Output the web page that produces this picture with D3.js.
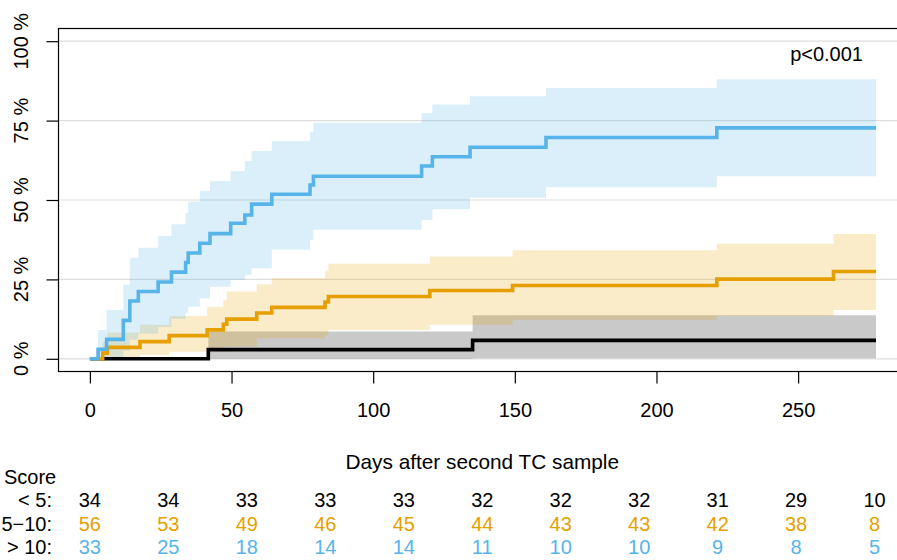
<!DOCTYPE html>
<html lang="en">
<head>
<meta charset="UTF-8">
<title>Cumulative incidence by score</title>
<style>
  body { margin: 0; background: #fff; }
  text { font-family: "Liberation Sans", Arial, Helvetica, sans-serif; }
</style>
</head>
<body>
<div id="chart"></div>
<script src="https://cdnjs.cloudflare.com/ajax/libs/d3/7.8.5/d3.min.js"></script>
<script>
// ---- data ----
// score < 5
var lowTimes  = [0, 41.8, 135.1, 277.5];
var lowEst    = [0, 2.9, 5.8, 5.8];
var lowUpper  = [0, 8.6, 13.7, 13.7];
var lowLower  = [0, 0, 0.2, 0.2];
// score 5-10
var midTimes  = [0, 4.5, 6.2, 17.7, 28, 41.4, 47.1, 48.3, 58.9, 64.2, 83, 84.2, 120, 149.2, 221.3, 262.5, 277.5];
var midEst    = [0, 1.8, 3.6, 5.4, 7.3, 9.1, 10.9, 12.5, 14.4, 16.2, 17.9, 19.6, 21.5, 23.1, 25.1, 27.5, 27.5];
var midUpper  = [0, 5.2, 8.3, 10.7, 13.5, 16.3, 18.6, 21.2, 23.5, 25.4, 27.8, 29.9, 32.2, 34.2, 36.2, 39.3, 39.3];
var midLower  = [0, 0, 0.4, 1.2, 2.2, 3.2, 3.6, 3.9, 6.5, 6.5, 7.5, 9.1, 10.7, 12.3, 13.5, 15.4, 15.4];
// score > 10
var highTimes = [0, 2.9, 5.9, 11.8, 14.1, 17.1, 24.1, 28.8, 33.8, 34.7, 38.8, 42.4, 49.7, 54.7, 57.1, 64.2, 77.7, 78.9, 117.1, 120.9, 134.2, 161, 221.3, 277.5];
var highEst   = [0, 3.0, 6.1, 12.1, 18.2, 21.2, 24.2, 27.3, 30.3, 33.3, 36.4, 39.4, 42.7, 45.3, 48.7, 51.8, 54.7, 57.5, 60.7, 63.6, 66.6, 69.7, 72.7, 72.7];
var highUpper = [0, 9.1, 15.4, 23.3, 31.8, 35.0, 38.7, 42.4, 46.0, 49.5, 52.8, 56.0, 59.1, 62.3, 65.4, 68.6, 71.5, 74.3, 77.3, 80.1, 82.7, 85.3, 88.0, 88.0];
var highLower = [0, 0, 0.4, 2.5, 6, 8, 10, 12.5, 14.5, 16.4, 19, 22.7, 24.8, 26.5, 28.5, 34.3, 37.4, 40.6, 43.7, 47.1, 50.7, 54.0, 57.5, 57.5];

var xTicks = [0, 50, 100, 150, 200, 250];
var yTicks = [0, 25, 50, 75, 100];
var yTickLabels = ["0 %", "25 %", "50 %", "75 %", "100 %"];

var riskTimes  = [0, 27.7, 55.4, 83.1, 110.8, 138.5, 166.2, 193.9, 221.6, 249.3, 277];
var riskLabels = ["< 5:", "5\u221210:", "> 10:"];
var riskLow    = [34, 34, 33, 33, 33, 32, 32, 32, 31, 29, 10];
var riskMid    = [56, 53, 49, 46, 45, 44, 43, 43, 42, 38, 8];
var riskHigh   = [33, 25, 18, 14, 14, 11, 10, 10, 9, 8, 5];

var groupColors = ["#000000", "#E69F00", "#56B4E9"];

// ---- layout ----
var W = 897, H = 560;
var svg = d3.select("#chart").append("svg")
    .attr("width", W)
    .attr("height", H);

var x = d3.scaleLinear().domain([-11.08, 288.08]).range([58.5, 906]);
var y = d3.scaleLinear().domain([-4, 104]).range([371.5, 28.5]);

// grid
svg.append("g").selectAll("line").data(yTicks).enter()
    .append("line")
    .attr("x1", x(-11.08)).attr("x2", W)
    .attr("y1", function(d) { return y(d); })
    .attr("y2", function(d) { return y(d); })
    .style("stroke", "#dedede").style("stroke-width", 1.2);

function rows(times, est, lo, up) {
  return times.map(function(t, i) { return {t: t, e: est[i], lo: lo[i], up: up[i]}; });
}
var groups = [
  rows(lowTimes, lowEst, lowLower, lowUpper),
  rows(midTimes, midEst, midLower, midUpper),
  rows(highTimes, highEst, highLower, highUpper)
];

var band = d3.area()
    .curve(d3.curveStepAfter)
    .x(function(d) { return x(d.t); })
    .y0(function(d) { return y(d.lo); })
    .y1(function(d) { return y(d.up); });

var line = d3.line()
    .curve(d3.curveStepAfter)
    .x(function(d) { return x(d.t); })
    .y(function(d) { return y(d.e); });

// confidence bands
groups.forEach(function(g, i) {
  svg.append("path")
      .datum(g)
      .attr("d", band)
      .style("fill", groupColors[i])
      .style("fill-opacity", 0.21)
      .style("stroke", "none");
});

// step curves
groups.forEach(function(g, i) {
  svg.append("path")
      .datum(g)
      .attr("d", line)
      .style("fill", "none")
      .style("stroke", groupColors[i])
      .style("stroke-width", 3.6);
});

// box (right side is outside the window)
svg.append("rect")
    .attr("x", 58.5).attr("y", 28.5)
    .attr("width", 900).attr("height", 343)
    .style("fill", "none").style("stroke", "#000").style("stroke-width", 1.2);

// x axis
var xAxis = svg.append("g")
    .attr("transform", "translate(0," + 371.5 + ")")
    .call(d3.axisBottom(x).tickValues(xTicks).tickSize(12).tickPadding(19).tickFormat(d3.format("d")));
xAxis.select(".domain").remove();
xAxis.selectAll("line").style("stroke", "#000").style("stroke-width", 1.2);
xAxis.selectAll("text").style("font-size", "20px").style("fill", "#000")
    .style("font-family", "'Liberation Sans', Arial, Helvetica, sans-serif");

// y axis
var yAxis = svg.append("g")
    .attr("transform", "translate(" + 58.5 + ",0)")
    .call(d3.axisLeft(y).tickValues(yTicks).tickSize(12).tickFormat(""));
yAxis.select(".domain").remove();
yAxis.selectAll("line").style("stroke", "#000").style("stroke-width", 1.2);

svg.append("g").selectAll("text").data(yTicks).enter()
    .append("text")
    .attr("transform", function(d) { return "translate(28," + y(d) + ") rotate(-90)"; })
    .attr("text-anchor", "middle")
    .style("font-size", "20px")
    .text(function(d, i) { return yTickLabels[i]; });

// p value
svg.append("text")
    .attr("x", 863).attr("y", 61)
    .attr("text-anchor", "end")
    .style("font-size", "20px")
    .text("p<0.001");

// axis title
svg.append("text")
    .attr("x", (x(-11.08) + x(288.08)) / 2).attr("y", 469)
    .attr("text-anchor", "middle")
    .style("font-size", "20.8px")
    .text("Days after second TC sample");

// risk table
svg.append("text")
    .attr("x", 4).attr("y", 484)
    .style("font-size", "20px")
    .text("Score");

var riskRows = [riskLow, riskMid, riskHigh];
var rowY = [507, 530.5, 554];
riskRows.forEach(function(r, i) {
  svg.append("text")
      .attr("x", 52).attr("y", rowY[i])
      .attr("text-anchor", "end")
      .style("font-size", "20px")
      .text(riskLabels[i]);
  svg.append("g").selectAll("text").data(r).enter()
      .append("text")
      .attr("x", function(d, j) { return x(riskTimes[j]); })
      .attr("y", rowY[i])
      .attr("text-anchor", "middle")
      .style("font-size", "20px")
      .style("fill", groupColors[i])
      .text(function(d) { return d; });
});
</script>
</body>
</html>
